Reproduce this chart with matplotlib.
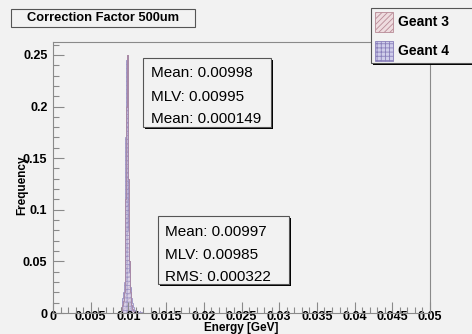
import numpy as np
import matplotlib.pyplot as plt
from matplotlib.patches import Rectangle

# Energy deposit histograms, bin width 0.0001 GeV, first bin starts at 0.0090
bin_start = 0.0090
bin_width = 0.0001
geant3 = [0.002, 0.004, 0.008, 0.012, 0.02, 0.04, 0.11, 0.2, 0.25, 0.22,
          0.13, 0.05, 0.02, 0.012, 0.008, 0.004, 0.002, 0.001]
geant4 = [0.006, 0.01, 0.015, 0.02, 0.03, 0.05, 0.17, 0.245, 0.2, 0.16,
          0.08, 0.04, 0.025, 0.02, 0.015, 0.01, 0.006, 0.004, 0.003, 0.002,
          0.002, 0.001, 0.002, 0.001, 0.001, 0.0015, 0.001, 0.0005, 0.001,
          0.0005]

stats_g3 = ["Mean: 0.00998", "MLV: 0.00995", "Mean: 0.000149"]
stats_g4 = ["Mean: 0.00997", "MLV: 0.00985", "RMS: 0.000322"]

W, H = 472, 334
bg = "#f2f2f2"
grey = "#8a8a8a"


def fx(x):
    return x / W


def fy(y):
    return 1 - y / H


plt.rcParams['font.family'] = ['Liberation Sans', 'DejaVu Sans']
plt.rcParams['hatch.linewidth'] = 0.6

fig = plt.figure(figsize=(W / 100, H / 100), dpi=100, facecolor=bg)
ax = fig.add_axes([fx(53), fy(313), fx(430) - fx(53), fy(42) - fy(313)])
ax.set_facecolor(bg)

edges3 = bin_start + bin_width * np.arange(len(geant3) + 1)
edges4 = bin_start + bin_width * np.arange(len(geant4) + 1)

ax.stairs(geant3, edges3, fill=True, facecolor="#eedcdf", edgecolor="#b88a96",
          hatch="//////", linewidth=0.7)
ax.stairs(geant4, edges4, fill=True, facecolor="#cfcdea", edgecolor="#8a80bb",
          hatch="++++", linewidth=0.7, alpha=0.7)
ax.stairs(geant3, edges3, fill=False, edgecolor="#a88aa8", linewidth=0.7)

ax.set_xlim(0, 0.05)
ax.set_ylim(0, 0.2625)
ax.set_xticks(np.arange(0, 0.0501, 0.005))
ax.set_xticklabels(["0", "0.005", "0.01", "0.015", "0.02", "0.025", "0.03",
                    "0.035", "0.04", "0.045", "0.05"])
ax.set_xticks(np.arange(0, 0.0501, 0.001), minor=True)
ax.set_yticks(np.arange(0, 0.2501, 0.05))
ax.set_yticklabels(["0", "0.05", "0.1", "0.15", "0.2", "0.25"])
ax.set_yticks(np.arange(0, 0.261, 0.01), minor=True)

ax.tick_params(which="both", direction="in", color=grey, width=0.8,
               top=False, right=False, labelsize=9)
ax.tick_params(axis="x", pad=-1.5)
ax.tick_params(axis="y", pad=4)
ax.tick_params(which="major", length=8)
ax.tick_params(which="minor", length=4)
for lab in ax.get_xticklabels() + ax.get_yticklabels():
    lab.set_fontweight("bold")

for s in ax.spines.values():
    s.set_color(grey)
    s.set_linewidth(0.8)

fig.text(fx(241), fy(328), "Energy [GeV]", ha="center", va="center",
         fontsize=8.5, fontweight="bold")
fig.text(fx(22), fy(185), "Frequency", ha="center", va="center",
         rotation=90, fontsize=8.5, fontweight="bold")


def framed_box(x0, y0, x1, y1, shadow=True):
    if shadow:
        fig.patches.append(Rectangle((fx(x0 + 2), fy(y1 + 2)), fx(x1) - fx(x0),
                                     fy(y0) - fy(y1), transform=fig.transFigure,
                                     facecolor="black", edgecolor="none"))
    fig.patches.append(Rectangle((fx(x0), fy(y1)), fx(x1) - fx(x0),
                                 fy(y0) - fy(y1), transform=fig.transFigure,
                                 facecolor=bg, edgecolor="#555555", linewidth=0.8))


# title
framed_box(11, 9, 195, 27, shadow=False)
fig.text(fx(103), fy(18), "Correction Factor 500um", ha="center", va="center",
         fontsize=9.3, fontweight="bold")

# stats boxes
framed_box(143, 58, 271, 127)
for i, line in enumerate(stats_g3):
    fig.text(fx(151), fy([73, 97, 119][i]), line, ha="left", va="center",
             fontsize=11)

framed_box(158, 216, 289, 284)
for i, line in enumerate(stats_g4):
    fig.text(fx(165), fy([232, 255, 277][i]), line, ha="left", va="center",
             fontsize=11)

# legend
framed_box(371, 8, 474, 63)
leg_entries = [("Geant 3", "#eedcdf", "#b88a96", "//////", 22),
               ("Geant 4", "#cfcdea", "#8a80bb", "++++", 51)]
for name, fc, ec, hatch, yc in leg_entries:
    fig.patches.append(Rectangle((fx(375), fy(yc + 10)), fx(393) - fx(375),
                                 fy(yc - 10) - fy(yc + 10),
                                 transform=fig.transFigure, facecolor=fc,
                                 edgecolor=ec, hatch=hatch, linewidth=0.6))
    fig.text(fx(398), fy(yc), name, ha="left", va="center", fontsize=10,
             fontweight="bold")

fig.savefig("out.png", dpi=100, facecolor=bg)
